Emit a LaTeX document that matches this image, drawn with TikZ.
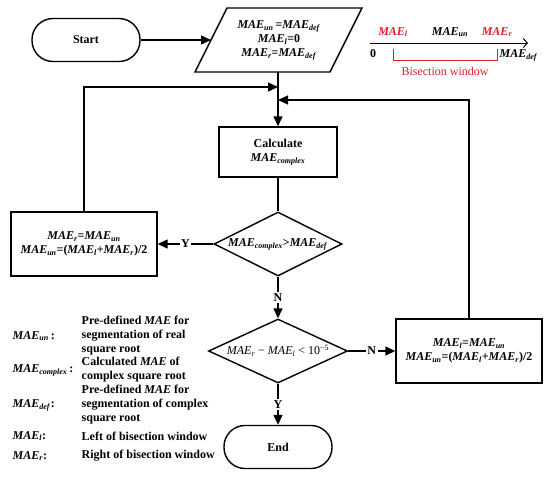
\documentclass[tikz,border=0pt]{standalone}
\usepackage{fontspec}
\setmainfont{Liberation Serif}
\usetikzlibrary{shapes.geometric,arrows.meta}
\definecolor{bisred}{RGB}{228,30,37}
\newcommand{\Mae}[1]{\textit{MAE}\textsubscript{\textit{#1}}}
\begin{document}
\begin{tikzpicture}[x=1pt,y=-1pt,
  font=\fontsize{12}{14}\selectfont\bfseries,
  line width=1.4pt,
  arr/.style={-{Triangle[length=10pt,width=9pt]}},
  term/.style={draw, rounded corners=21pt, minimum width=108pt, minimum height=43pt},
  procbox/.style={draw, align=center, minimum height=64pt, minimum width=146pt},
  dec/.style={draw, diamond, aspect=2, inner sep=0pt, minimum height=64pt},
  lab/.style={fill=white, inner sep=1.5pt},
  keyname/.style={anchor=west, inner sep=0pt},
  keydesc/.style={anchor=west, inner sep=0pt, align=left}
]
\useasboundingbox (0,0) rectangle (550,480);

% main flow
\node[term] (start) at (86,40) {Start};
\node[align=center, inner sep=0pt] (init) at (279,40)
      {\Mae{un}\,=\Mae{def}\\ \Mae{l}=0\\ \Mae{r}=\Mae{def}};
\coordinate (p1) at (195,72);
\coordinate (p2) at (227,8);
\coordinate (p3) at (362,8);
\coordinate (p4) at (330,72);
\coordinate (pl) at (211,40);
\coordinate (pb) at (278,72);
\draw (p1) -- (p2) -- (p3) -- (p4) -- cycle;
\node[draw, align=center, minimum width=118pt, minimum height=50pt] (calc) at (278,152)
      {Calculate\\ \Mae{complex}};
\node[dec, minimum width=128pt] (d1) at (278,244) {\Mae{complex}>\Mae{def}};
\node[procbox] (ybox) at (84,244) {\Mae{r}=\Mae{un}\\ \Mae{un}=(\Mae{l}+\Mae{r})/2};
\node[dec, minimum width=139pt, aspect=2.3] (d2) at (278,351)
      {\mdseries\Mae{r} − \Mae{l} < 10\textsuperscript{−5}};
\node[procbox] (nbox) at (469,351) {\Mae{l}=\Mae{un}\\ \Mae{un}=(\Mae{l}+\Mae{r})/2};
\node[term] (end) at (278,447) {End};

\coordinate (j1) at (278,87);
\coordinate (j2) at (278,100);

\draw[arr] (start) -- (pl);
\draw[arr] (pb) -- (calc.north);
\draw (calc.south) -- (d1.north);
\draw[arr] (ybox.north) |- (j1);
\draw[arr] (nbox.north) |- (j2);
\draw[arr] (d1.west) -- node[lab]{Y} (ybox.east);
\draw[arr] (d1.south) -- node[lab]{N} (d2.north);
\draw[arr] (d2.east) -- node[lab]{N} (nbox.west);
\draw[arr] (d2.south) -- node[lab]{Y} (end.north);

% legend
\node[keyname] (k1) at (12,336) {\Mae{un}\,:};
\node[keydesc] (t1) at (81,336) {Pre-defined \textit{MAE} for\\ segmentation of real\\ square root};
\node[keyname] (k2) at (12,370) {\Mae{complex}\,:};
\node[keydesc] (t2) at (81,370) {Calculated \textit{MAE} of\\ complex square root};
\node[keyname] (k3) at (12,405) {\Mae{def}:};
\node[keydesc] (t3) at (81,405) {Pre-defined \textit{MAE} for\\ segmentation of complex\\ square root};
\node[keyname] (k4) at (12,436) {\Mae{l}:};
\node[keydesc] (t4) at (81,436) {Left of bisection window};
\node[keyname] (k5) at (12,456) {\Mae{r}:};
\node[keydesc] (t5) at (81,456) {Right of bisection window};

% bisection window sketch
\coordinate (a0) at (370,43);
\coordinate (a1) at (528,43);
\draw[line width=1pt, -{Straight Barb[length=4pt,width=9pt]}] (a0) -- (a1);
\node[text=bisred] (ml) at (393,32) {\Mae{l}};
\node (mu) at (450,32) {\Mae{un}};
\node[text=bisred] (mr) at (497,32) {\Mae{r}};
\node (zero) at (373,54) {0};
\node[anchor=west, inner sep=0pt] (mdef) at (499,55) {\Mae{def}};
\coordinate (b0) at (393,49);
\coordinate (b1) at (497,49);
\draw[bisred, line width=1pt] (b0) -- ++(0,11) -| (b1);
\node[text=bisred, font=\fontsize{12}{14}\selectfont\mdseries] (bw) at (445,71) {Bisection window};
\end{tikzpicture}
\end{document}
